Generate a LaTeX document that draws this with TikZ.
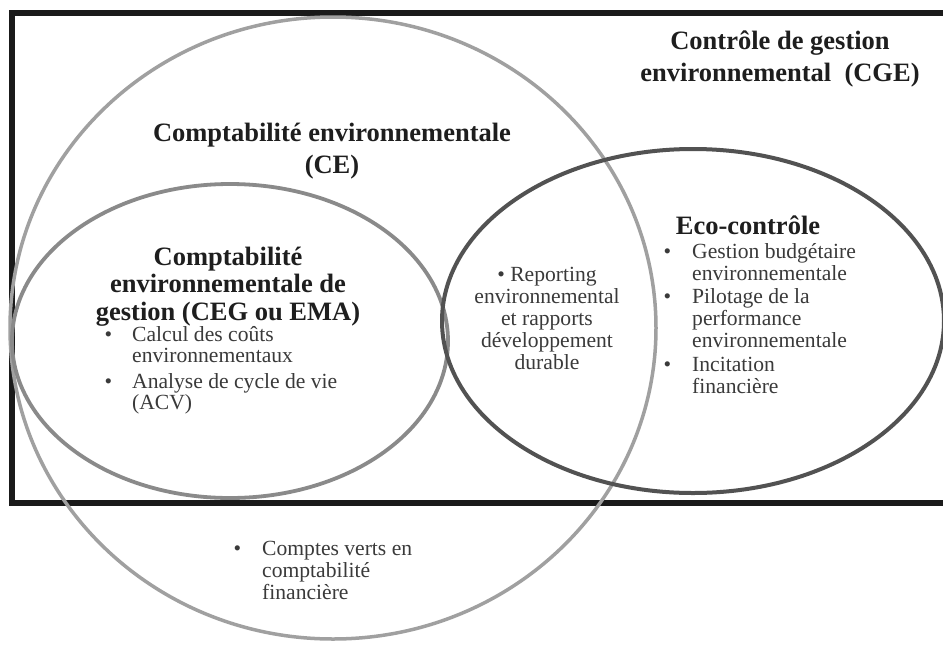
\documentclass[tikz,border=0pt]{standalone}
\usepackage{fontspec}
\setmainfont{Liberation Serif}
\definecolor{framecol}{HTML}{1A1A1A}
\definecolor{cecol}{HTML}{A0A0A0}
\definecolor{cegcol}{HTML}{8A8A8A}
\definecolor{ecocol}{HTML}{525252}
\definecolor{headcol}{HTML}{1E1E1E}
\definecolor{bodycol}{HTML}{3A3A3A}
\begin{document}
\begin{tikzpicture}[x=1pt,y=-1pt,
  headtxt/.style={font=\fontsize{26.5}{31.5}\selectfont\bfseries, text=headcol, align=center, inner sep=0pt, anchor=base},
  bodytxt/.style={font=\fontsize{21.6}{21.8}\selectfont, text=bodycol, align=left, inner sep=0pt, anchor=base west},
  bodyctr/.style={bodytxt, align=center, anchor=base},
  cering/.style={draw=cecol, line width=3.5pt},
  cegring/.style={draw=cegcol, line width=3.8pt},
  ecoring/.style={draw=ecocol, line width=4pt},
  framebox/.style={draw=framecol, line width=6pt}
]
\useasboundingbox (0,0) rectangle (943,646);
\fill[white] (0,0) rectangle (943,646);
% frame (CGE)
\draw[framebox] (12,13) rectangle (962,503);
% circles
\draw[cering] (333,328) ellipse [x radius=323, y radius=311];
\draw[cegring] (230,341) ellipse [x radius=218, y radius=157];
\draw[ecoring] (693,321) ellipse [x radius=251, y radius=172];
% headings (anchor base = baseline of the last line)
\node[headtxt] (cge) at (780,81) {Contrôle de gestion\\environnemental\ \ (CGE)};
\node[headtxt] (ce) at (332,173) {Comptabilité environnementale\\(CE)};
\node[headtxt, font=\fontsize{26.5}{27.5}\selectfont\bfseries] (ceg) at (228,320) {Comptabilité\\environnementale de\\gestion (CEG ou EMA)};
\node[headtxt] (eco) at (748,234) {Eco-contrôle};
% lists
\node[bodytxt, font=\fontsize{21.6}{21}\selectfont] (ceglist) at (132,409) {\llap{\textbullet\hspace{20pt}}Calcul des coûts\\environnementaux\\[5pt]\llap{\textbullet\hspace{20pt}}Analyse de cycle de vie\\(ACV)};
\node[bodyctr] (report) at (547,369) {\textbullet\ Reporting\\environnemental\\et rapports\\développement\\durable};
\node[bodytxt] (ecolist) at (692,393) {\llap{\textbullet\hspace{21pt}}Gestion budgétaire\\environnementale\\[2pt]\llap{\textbullet\hspace{21pt}}Pilotage de la\\performance\\environnementale\\[2pt]\llap{\textbullet\hspace{21pt}}Incitation\\financière};
\node[bodytxt] (verts) at (262,599) {\llap{\textbullet\hspace{21pt}}Comptes verts en\\comptabilité\\financière};
\end{tikzpicture}
\end{document}
